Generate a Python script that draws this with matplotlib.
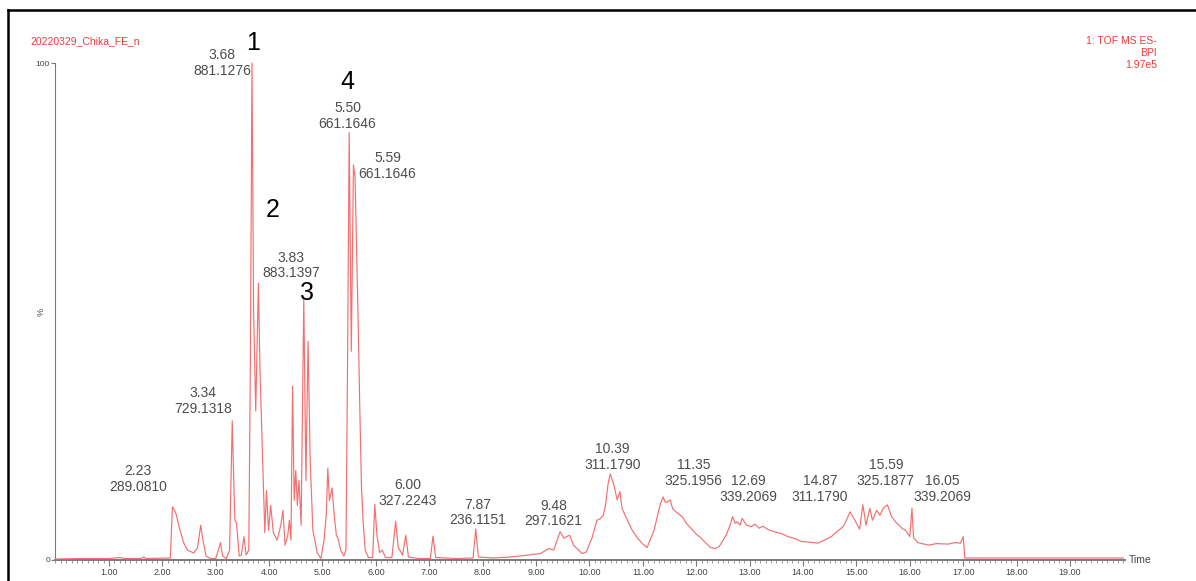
import matplotlib
matplotlib.use("Agg")
import matplotlib.pyplot as plt
from matplotlib.lines import Line2D
from matplotlib.ticker import MultipleLocator

plt.rcParams['font.family'] = ['Liberation Sans', 'DejaVu Sans']

# base peak intensity chromatogram (time in min, % of base peak)
rt = [0.00, 0.50, 1.00, 1.20, 1.30, 1.60, 1.65, 1.70, 2.15, 2.19, 2.23, 2.26, 2.32, 2.40,
      2.47, 2.59, 2.66, 2.72, 2.76, 2.82, 2.90, 3.00, 3.05, 3.09, 3.13, 3.20, 3.26, 3.31,
      3.34, 3.36, 3.39, 3.44, 3.48, 3.53, 3.57, 3.62, 3.65, 3.68, 3.71, 3.75, 3.80, 3.83,
      3.86, 3.89, 3.92, 3.95, 3.99, 4.03, 4.08, 4.15, 4.22, 4.26, 4.30, 4.35, 4.38, 4.41,
      4.44, 4.47, 4.50, 4.53, 4.56, 4.60, 4.65, 4.69, 4.73, 4.77, 4.82, 4.90, 4.97, 5.03,
      5.07, 5.10, 5.13, 5.18, 5.22, 5.26, 5.30, 5.34, 5.40, 5.44, 5.47, 5.50, 5.54, 5.58,
      5.61, 5.64, 5.67, 5.70, 5.73, 5.76, 5.80, 5.86, 5.94, 5.98, 6.02, 6.07, 6.12, 6.18,
      6.30, 6.37, 6.42, 6.50, 6.56, 6.61, 6.80, 7.02, 7.07, 7.12, 7.50, 7.82, 7.87, 7.92,
      8.20, 8.50, 8.70, 9.08, 9.24, 9.33, 9.45, 9.52, 9.63, 9.70, 9.86, 9.94, 10.05, 10.14,
      10.20, 10.26, 10.30, 10.35, 10.39, 10.45, 10.52, 10.57, 10.61, 10.71, 10.80, 10.90,
      11.00, 11.08, 11.21, 11.33, 11.38, 11.42, 11.46, 11.51, 11.56, 11.62, 11.68, 11.74,
      11.82, 11.90, 12.00, 12.09, 12.18, 12.27, 12.35, 12.43, 12.56, 12.64, 12.68, 12.73,
      12.77, 12.82, 12.86, 12.94, 13.03, 13.10, 13.18, 13.25, 13.35, 13.46, 13.60, 13.72,
      13.85, 13.97, 14.12, 14.28, 14.40, 14.53, 14.62, 14.75, 14.82, 14.88, 14.97, 15.06,
      15.12, 15.18, 15.25, 15.30, 15.38, 15.44, 15.50, 15.58, 15.66, 15.74, 15.80, 15.86,
      15.92, 16.00, 16.04, 16.07, 16.15, 16.35, 16.50, 16.72, 16.85, 16.95, 17.00, 17.03,
      17.50, 20.00]
bpi = [0.2, 0.3, 0.3, 0.5, 0.3, 0.3, 0.6, 0.3, 0.4, 10.7, 10.0, 9.2, 6.5, 3.5,
       2.0, 1.4, 2.5, 7.0, 4.0, 0.8, 0.3, 0.3, 2.0, 3.5, 0.8, 0.3, 2.0, 28.0,
       15.0, 8.0, 7.5, 0.8, 1.0, 4.7, 1.0, 2.0, 40.0, 100.0, 50.0, 30.0, 55.7, 38.0,
       27.0, 16.0, 5.5, 14.0, 6.0, 11.0, 5.5, 4.0, 7.0, 10.0, 3.0, 5.0, 8.0, 4.0,
       35.0, 12.0, 18.0, 11.0, 16.0, 7.0, 52.5, 16.0, 44.0, 20.0, 6.0, 1.5, 0.3, 4.0,
       9.0, 18.5, 12.0, 14.5, 9.0, 5.0, 4.0, 2.0, 0.8, 2.0, 40.0, 86.0, 42.0, 79.5,
       77.0, 62.0, 47.0, 30.0, 15.0, 8.0, 2.0, 0.5, 0.5, 11.2, 5.0, 1.5, 2.0, 0.5,
       0.5, 7.8, 2.5, 1.0, 5.0, 0.6, 0.3, 0.3, 4.8, 0.5, 0.3, 0.4, 6.2, 0.6,
       0.4, 0.6, 0.8, 1.3, 2.3, 2.0, 5.7, 4.4, 5.0, 3.0, 1.3, 1.6, 4.5, 8.0,
       8.3, 9.0, 11.0, 15.4, 17.3, 15.4, 12.1, 13.8, 10.4, 8.0, 6.0, 4.4,
       3.2, 2.5, 6.0, 11.4, 12.7, 11.6, 11.7, 12.1, 10.3, 9.7, 9.2, 8.7,
       7.3, 6.4, 5.2, 4.4, 3.4, 2.5, 2.3, 2.7, 5.0, 7.2, 8.7, 7.4,
       7.7, 7.0, 8.4, 7.0, 6.7, 7.2, 6.4, 6.8, 6.1, 5.7, 5.3, 4.7,
       4.3, 3.7, 3.6, 3.4, 4.0, 4.7, 5.6, 6.7, 8.2, 9.7, 8.0, 6.2,
       11.1, 7.0, 10.4, 8.0, 10.0, 9.0, 10.4, 11.1, 8.7, 7.6, 7.0, 6.3,
       6.0, 4.7, 10.4, 4.5, 3.5, 3.0, 3.3, 3.2, 3.5, 3.4, 4.7, 0.4,
       0.4, 0.4]

# labelled peaks: retention time and base peak m/z
peak_rt = ['3.68', '3.83', '5.50', '5.59', '3.34', '2.23', '6.00', '7.87', '9.48',
           '10.39', '11.35', '12.69', '14.87', '15.59', '16.05']
peak_mz = ['881.1276', '883.1397', '661.1646', '661.1646', '729.1318', '289.0810',
           '327.2243', '236.1151', '297.1621', '311.1790', '325.1956', '339.2069',
           '311.1790', '325.1877', '339.2069']
# where each label sits (centre time, bottom in %)
label_x = [3.12, 4.41, 5.47, 6.22, 2.77, 1.55, 6.60, 7.90, 9.33, 10.43, 11.95, 12.97,
           14.32, 15.55, 16.60]
label_y = [97.0, 56.3, 86.3, 76.3, 29.0, 13.3, 10.5, 6.6, 6.4, 17.7, 14.5, 11.3,
           11.3, 14.5, 11.3]

compound_no = ['1', '2', '3', '4']
compound_x = [3.70, 4.06, 4.71, 5.46]
compound_y = [104.0, 70.4, 53.7, 96.2]

W, H = 1196, 581
fig = plt.figure(figsize=(W / 100, H / 100), dpi=100)
ax = fig.add_axes([55.5 / W, (H - 560) / H, (1125 - 55.5) / W, (560 - 63) / H])

ax.plot(rt, bpi, color='#f36f70', lw=0.85, clip_on=False, zorder=3)
ax.set_xlim(0, 20.03)
ax.set_ylim(0, 100)

for s in ['top', 'right']:
    ax.spines[s].set_visible(False)
ax.spines['left'].set_color('#7a7a7a')
ax.spines['bottom'].set_color('#7a7a7a')
ax.spines['bottom'].set_linewidth(1.4)

ax.set_xticks(range(1, 20))
ax.set_xticklabels(['%.2f' % v for v in range(1, 20)])
ax.xaxis.set_minor_locator(MultipleLocator(0.1))
ax.tick_params(axis='x', which='major', length=4, width=0.8, color='#7a7a7a',
               labelsize=6.5, labelcolor='#444444', pad=2)
ax.tick_params(axis='x', which='minor', length=2.5, width=0.6, color='#8a8a8a')
ax.set_yticks([0, 100])
ax.set_yticklabels(['0', '100'])
ax.tick_params(axis='y', length=3, width=0.8, color='#7a7a7a', labelsize=6,
               labelcolor='#444444', pad=1)
ax.set_ylabel('%', fontsize=6.5, color='#444444')
ax.yaxis.set_label_coords(-0.009, 0.5)
ax.text(1.004, 0, 'Time', transform=ax.transAxes, fontsize=7.5, color='#444444',
        ha='left', va='center')

for i in range(len(peak_rt)):
    ax.text(label_x[i], label_y[i], peak_rt[i] + '\n' + peak_mz[i], fontsize=10,
            color='#4d4d4d', ha='center', va='bottom', linespacing=1.15)

for i in range(len(compound_no)):
    ax.text(compound_x[i], compound_y[i], compound_no[i], fontsize=18, color='black',
            ha='center', va='center')

# header texts from the instrument software
fig.text(30 / W, 1 - 41 / H, '20220329_Chika_FE_n', fontsize=7.5, color='#ee3a3a',
         ha='left', va='center')
fig.text(1157 / W, 1 - 41 / H, '1: TOF MS ES-', fontsize=7.5, color='#ee3a3a',
         ha='right', va='center')
fig.text(1157 / W, 1 - 53 / H, 'BPI', fontsize=7.5, color='#ee3a3a',
         ha='right', va='center')
fig.text(1157 / W, 1 - 65 / H, '1.97e5', fontsize=7.5, color='#ee3a3a',
         ha='right', va='center')

# outer frame of the pasted screenshot
fig.add_artist(Line2D([8 / W, 8 / W], [0, 1 - 10 / H], transform=fig.transFigure,
                      color='black', lw=1.8))
fig.add_artist(Line2D([8 / W, 1], [1 - 10 / H, 1 - 10 / H], transform=fig.transFigure,
                      color='black', lw=1.8))

fig.savefig('out.png', dpi=100)
